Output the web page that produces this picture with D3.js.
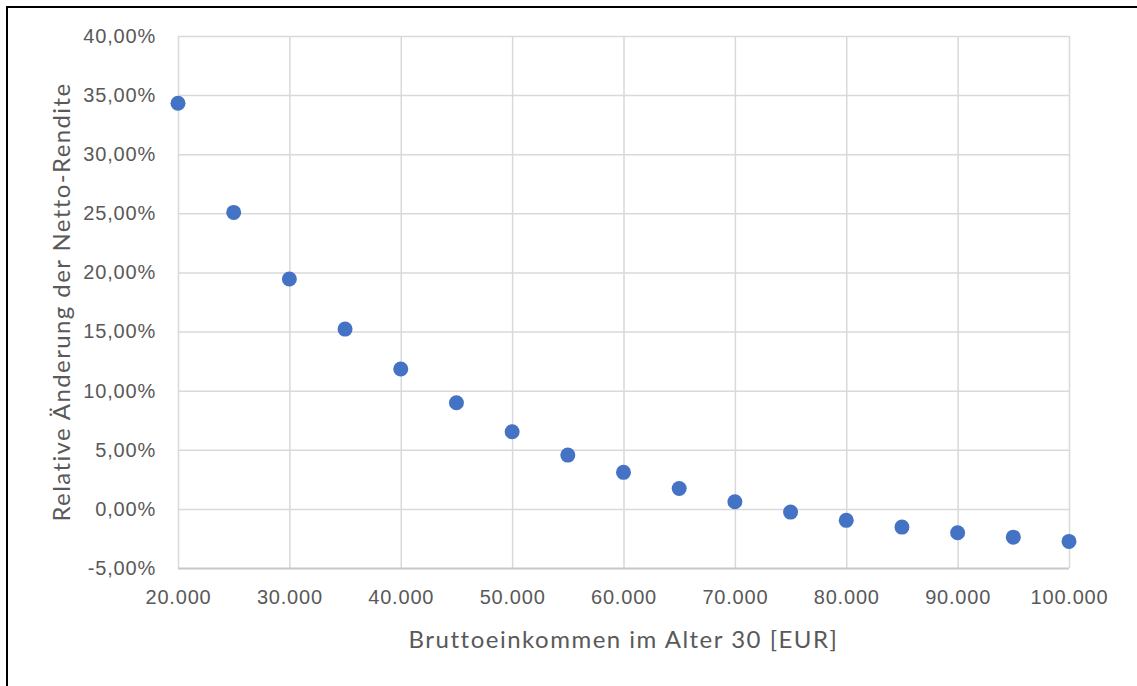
<!DOCTYPE html>
<html>
<head>
<meta charset="utf-8">
<script src="https://cdn.jsdelivr.net/npm/d3@7"></script>
<style>
  body { margin: 0; background: #fff; }
  svg { display: block; font-family: Lato, "Open Sans", sans-serif; }
  .tick text { fill: #595959; }
</style>
</head>
<body>
<svg></svg>
<script>
// income in EUR at age 30
var incomes = [20000, 25000, 30000, 35000, 40000, 45000, 50000, 55000, 60000,
	65000, 70000, 75000, 80000, 85000, 90000, 95000, 100000]
// relative change of net return
var changes = [0.3431, 0.2508, 0.1944, 0.1521, 0.1183, 0.0898, 0.0652, 0.0455, 0.0309,
	0.0173, 0.0060, -0.0027, -0.0097, -0.0154, -0.0202, -0.0239, -0.0275]

var xTicks = [20000, 30000, 40000, 50000, 60000, 70000, 80000, 90000, 100000]
var yTicks = [-0.05, 0, 0.05, 0.10, 0.15, 0.20, 0.25, 0.30, 0.35, 0.40]

var xTitle = 'Bruttoeinkommen im Alter 30 [EUR]'
var yTitle = 'Relative Änderung der Netto-Rendite'

var width = 1137
var height = 686
var margin = {left: 178, top: 36, right: 68, bottom: 118}
var innerW = width - margin.left - margin.right
var innerH = height - margin.top - margin.bottom

var de = d3.formatLocale({decimal: ',', thousands: '.', grouping: [3], currency: ['', ' €'], minus: '-'})

var svg = d3.select('svg').attr('width', width).attr('height', height)

// outer frame (only top and left edges are visible)
svg.append('line').attr('x1', 6).attr('x2', width).attr('y1', 7).attr('y2', 7)
	.attr('stroke', '#000').attr('stroke-width', 2)
svg.append('line').attr('x1', 7).attr('x2', 7).attr('y1', 6).attr('y2', height)
	.attr('stroke', '#000').attr('stroke-width', 2)

var g = svg.append('g').attr('transform', 'translate(' + margin.left + ',' + margin.top + ')')

var x = d3.scaleLinear().domain([20000, 100000]).range([0, innerW])
var y = d3.scaleLinear().domain([-0.05, 0.40]).range([innerH, 0])

// vertical grid + x labels
var xAxis = g.append('g')
	.attr('transform', 'translate(0,' + innerH + ')')
	.call(d3.axisBottom(x).tickValues(xTicks).tickSize(-innerH).tickPadding(22)
		.tickFormat(de.format(',.0f')))
xAxis.select('.domain').remove()
xAxis.selectAll('.tick line').attr('stroke', '#d9d9d9').attr('stroke-width', 1.5)
xAxis.selectAll('.tick text').attr('font-size', 20).attr('letter-spacing', 0.8)

// horizontal grid + y labels
var yAxis = g.append('g')
	.call(d3.axisLeft(y).tickValues(yTicks).tickSize(-innerW).tickPadding(22)
		.tickFormat(de.format('.2%')))
yAxis.select('.domain').remove()
yAxis.selectAll('.tick line').attr('stroke', function(d) {return d === -0.05 ? '#c8c8c8' : '#d9d9d9'})
	.attr('stroke-width', function(d) {return d === -0.05 ? 2 : 1.5})
yAxis.selectAll('.tick text').attr('font-size', 20).attr('letter-spacing', 0.8)

// points
g.append('g').selectAll('circle')
	.data(incomes)
	.enter().append('circle')
	.attr('cx', function(d) {return x(d)})
	.attr('cy', function(d, i) {return y(changes[i])})
	.attr('r', 7.5)
	.attr('fill', '#4472c4')

// axis titles
svg.append('text')
	.attr('x', margin.left + innerW / 2)
	.attr('y', 648)
	.attr('text-anchor', 'middle')
	.attr('font-size', 24)
	.attr('letter-spacing', 1.5)
	.attr('fill', '#595959')
	.text(xTitle)

svg.append('text')
	.attr('transform', 'translate(70,' + (margin.top + innerH / 2) + ') rotate(-90)')
	.attr('text-anchor', 'middle')
	.attr('font-size', 24)
	.attr('letter-spacing', 1.4)
	.attr('fill', '#595959')
	.text(yTitle)
</script>
</body>
</html>
